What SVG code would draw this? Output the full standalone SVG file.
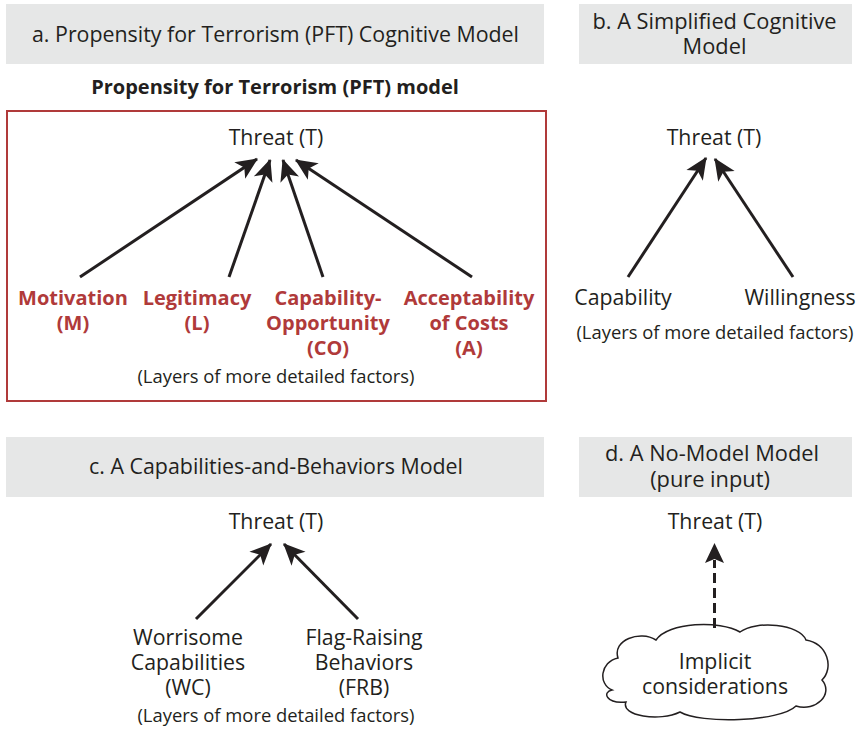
<svg xmlns="http://www.w3.org/2000/svg" width="858" height="732" viewBox="0 0 858 732">
  <style>
    text { font-family: "Open Sans", "Noto Sans", "DejaVu Sans", sans-serif; fill: #231f20; text-anchor: middle; }
    .head { font-size: 21.8px; }
    .node { font-size: 21.3px; }
    .red { font-size: 20px; font-weight: bold; fill: #b03a3a; }
    .note { font-size: 18.4px; }
    .title { font-size: 20px; font-weight: bold; }
    .band { fill: #e6e7e7; }
    .edge { stroke: #231f20; stroke-width: 3; fill: none; marker-end: url(#arrow); }
    .dash { stroke: #231f20; stroke-width: 3; fill: none; stroke-dasharray: 10 5; }
  </style>
  <defs>
    <marker id="arrow" markerUnits="userSpaceOnUse" markerWidth="24" markerHeight="24" viewBox="-20 -10 22 20" refX="0" refY="0" orient="auto">
      <path d="M1,0 L-19,-9 L-14,0 L-19,9 Z" fill="#231f20"/>
    </marker>
  </defs>

  <!-- panel headers -->
  <g id="header-a">
    <rect class="band" x="6" y="4" width="538" height="60"/>
    <text class="head" x="275.5" y="41.5" textLength="487" lengthAdjust="spacingAndGlyphs">a. Propensity for Terrorism (PFT) Cognitive Model</text>
  </g>
  <g id="header-b">
    <rect class="band" x="579" y="4" width="273" height="60"/>
    <text class="head" x="714.5" y="28.5">b. A Simplified Cognitive</text>
    <text class="head" x="714.5" y="53.5">Model</text>
  </g>
  <g id="header-c">
    <rect class="band" x="6" y="437" width="538" height="60"/>
    <text class="head" x="276" y="474" textLength="374" lengthAdjust="spacingAndGlyphs">c. A Capabilities-and-Behaviors Model</text>
  </g>
  <g id="header-d">
    <rect class="band" x="579" y="437" width="273" height="60"/>
    <text class="head" x="712" y="461">d. A No-Model Model</text>
    <text class="head" x="710" y="487">(pure input)</text>
  </g>

  <!-- panel a: PFT model -->
  <g id="pft-frame">
    <text class="title" x="275" y="93.5">Propensity for Terrorism (PFT) model</text>
    <rect x="7" y="111" width="539" height="290" fill="none" stroke="#b03a3a" stroke-width="2"/>
  </g>
  <g id="a-threat"><text class="node" x="276" y="145">Threat (T)</text></g>
  <g id="a-motivation">
    <text class="red" x="73" y="305">Motivation</text>
    <text class="red" x="73" y="330">(M)</text>
  </g>
  <g id="a-legitimacy">
    <text class="red" x="197" y="305">Legitimacy</text>
    <text class="red" x="197" y="330">(L)</text>
  </g>
  <g id="a-capability-opportunity">
    <text class="red" x="328" y="305">Capability-</text>
    <text class="red" x="328" y="330">Opportunity</text>
    <text class="red" x="328" y="355">(CO)</text>
  </g>
  <g id="a-acceptability">
    <text class="red" x="469" y="305">Acceptability</text>
    <text class="red" x="469" y="330">of Costs</text>
    <text class="red" x="469" y="355">(A)</text>
  </g>
  <g id="a-layers"><text class="note" x="276" y="383">(Layers of more detailed factors)</text></g>

  <!-- panel b -->
  <g id="b-threat"><text class="node" x="714" y="145">Threat (T)</text></g>
  <g id="b-capability"><text class="node" x="623" y="305">Capability</text></g>
  <g id="b-willingness"><text class="node" x="800" y="305">Willingness</text></g>
  <g id="b-layers"><text class="note" x="715" y="339">(Layers of more detailed factors)</text></g>

  <!-- panel c -->
  <g id="c-threat"><text class="node" x="276" y="529">Threat (T)</text></g>
  <g id="c-worrisome">
    <text class="node" x="188" y="645">Worrisome</text>
    <text class="node" x="188" y="670">Capabilities</text>
    <text class="node" x="188" y="695">(WC)</text>
  </g>
  <g id="c-flag-raising">
    <text class="node" x="364" y="645">Flag-Raising</text>
    <text class="node" x="364" y="670">Behaviors</text>
    <text class="node" x="364" y="695">(FRB)</text>
  </g>
  <g id="c-layers"><text class="note" x="276" y="722">(Layers of more detailed factors)</text></g>

  <!-- panel d -->
  <g id="d-threat"><text class="node" x="715" y="529">Threat (T)</text></g>
  <g id="d-cloud">
    <path d="M612,690 C598,684 600,662 618,658 C612,640 640,630 656,640 C668,622 720,620 740,632 C756,620 800,624 806,640 C828,644 834,668 822,680 C834,694 816,712 796,706 C780,722 700,724 680,712 C660,722 620,716 626,702 C606,704 602,692 612,690 Z" fill="#ffffff" stroke="#231f20" stroke-width="1.5"/>
    <text class="node" x="715" y="669">Implicit</text>
    <text class="node" x="715" y="694">considerations</text>
  </g>

  <!-- connectors -->
  <g id="connectors">
    <line class="edge" x1="80" y1="277" x2="257" y2="159"/>
    <line class="edge" x1="229" y1="277" x2="270" y2="160"/>
    <line class="edge" x1="323" y1="277" x2="283" y2="160"/>
    <line class="edge" x1="472" y1="277" x2="296" y2="160"/>

    <line class="edge" x1="628" y1="277" x2="706" y2="158"/>
    <line class="edge" x1="793" y1="277" x2="715" y2="159"/>

    <line class="edge" x1="196" y1="619" x2="271" y2="544"/>
    <line class="edge" x1="358" y1="619" x2="284" y2="544"/>

    <line class="dash" x1="714.5" y1="628" x2="714.5" y2="560"/>
    <path d="M714.5,543 L724,563 L714.5,559 L705,563 Z" fill="#231f20"/>
  </g>
</svg>
